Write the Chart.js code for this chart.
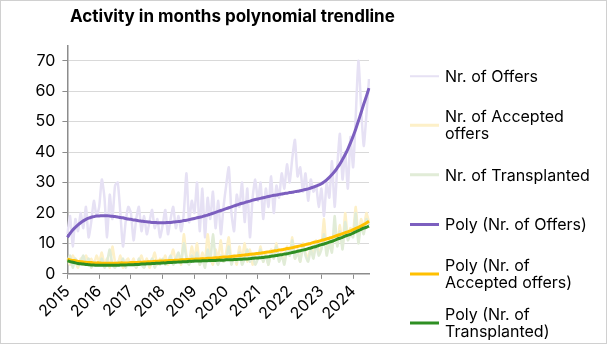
<!DOCTYPE html>
<html>
<head>
<meta charset="utf-8">
<script src="https://cdn.jsdelivr.net/npm/chart.js@4.4.0/dist/chart.umd.min.js"></script>
<style>
  body { margin: 0; background: #fff; font-family: Inter, "Liberation Sans", Arial, sans-serif; }
  #wrap { position: relative; width: 607px; height: 344px; overflow: hidden; }
  #frame { position: absolute; left: 0; top: 0; width: 605px; height: 342px; border: 1px solid #d0d0d0; pointer-events: none; }
  canvas { position: absolute; left: 0; top: 0; }
  #title { position: absolute; left: 70px; top: 5px; font-size: 17px; font-weight: bold; line-height: 22px; color: #000; white-space: nowrap; }
  .item { position: absolute; left: 410px; transform: translateY(-50%); }
  .item .swatch { position: absolute; left: 0; top: 50%; width: 29px; transform: translateY(-50%); }
  .item .txt { margin-left: 35px; font-size: 16px; line-height: 17px; color: #000; white-space: nowrap; }
</style>
</head>
<body>
<div id="wrap">
  <canvas id="chart" width="607" height="344"></canvas>
  <div id="title">Activity in months polynomial trendline</div>
  <div id="legend"></div>
  <div id="frame"></div>
</div>
<script>
// tick labels (one per January)
var years = ['2015', '2016', '2017', '2018', '2019', '2020', '2021', '2022', '2023', '2024'];
var lastYearMonths = 7; // data runs to July 2024

// monthly raw counts, Jan 2015 .. Jul 2024
var offers = [
  13, 19, 9, 18, 14, 20, 15, 22, 12, 17, 24, 19,
  22, 31, 25, 12, 26, 18, 29, 30, 20, 9, 17, 22,
  20, 11, 18, 22, 14, 19, 13, 17, 21, 15, 18, 12,
  16, 21, 13, 18, 22, 15, 19, 14, 20, 33, 17, 24,
  20, 30, 14, 28, 12, 25, 18, 27, 15, 24, 13, 22,
  29, 35, 20, 14, 26, 22, 30, 17, 28, 12, 25, 31,
  24, 30, 18, 28, 22, 32, 20, 29, 25, 33, 28, 36,
  30, 38, 44, 32, 35, 27, 33, 24, 31, 27, 29, 22,
  28, 19, 30, 25, 37, 22, 35, 46, 31, 40, 28, 45,
  35, 52, 70, 55, 42, 52, 64
];
var accepted = [
  5, 3, 6, 4, 2, 5, 3, 6, 4, 5, 3, 6,
  4, 7, 3, 5, 2, 9, 4, 3, 6, 2, 4, 5,
  3, 5, 2, 4, 6, 3, 5, 2, 4, 7, 3, 5,
  4, 6, 3, 5, 8, 4, 6, 3, 13, 6, 4, 9,
  5, 10, 3, 7, 4, 13, 6, 3, 8, 5, 11, 4,
  7, 12, 4, 6, 3, 9, 5, 10, 4, 8, 3, 6,
  5, 9, 4, 7, 3, 8, 6, 10, 5, 7, 4, 9,
  6, 12, 5, 8, 4, 10, 7, 5, 9, 6, 11, 7,
  9, 18, 7, 12, 8, 14, 10, 16, 9, 20, 12, 15,
  14, 22, 12, 18, 15, 20, 17
];
var transplanted = [
  4, 6, 2, 5, 3, 4, 6, 3, 5, 2, 4, 3,
  3, 5, 2, 4, 8, 3, 2, 4, 3, 5, 2, 4,
  3, 4, 2, 5, 3, 2, 4, 3, 5, 2, 4, 3,
  5, 3, 4, 6, 3, 5, 7, 4, 10, 5, 3, 6,
  4, 7, 3, 5, 2, 8, 4, 13, 5, 3, 6, 4,
  5, 9, 3, 6, 4, 7, 3, 5, 8, 4, 6, 3,
  5, 8, 4, 6, 3, 7, 5, 9, 4, 6, 3, 8,
  6, 11, 5, 7, 4, 9, 6, 4, 8, 5, 10, 6,
  8, 13, 6, 10, 7, 19, 9, 14, 8, 17, 11, 13,
  12, 20, 10, 16, 13, 18, 16
];

// polynomial trendlines
var polyOffers = [
  12.0, 13.3, 14.4, 15.3, 16.1, 16.8, 17.4, 17.9, 18.3, 18.6, 18.8, 19.0,
  19.0, 19.1, 19.1, 19.1, 19.0, 18.9, 18.8, 18.7, 18.5, 18.4, 18.2, 18.0,
  17.9, 17.7, 17.6, 17.4, 17.3, 17.2, 17.1, 17.0, 16.9, 16.9, 16.8, 16.8,
  16.8, 16.8, 16.9, 16.9, 17.0, 17.1, 17.2, 17.3, 17.5, 17.6, 17.8, 18.0,
  18.2, 18.4, 18.6, 18.8, 19.1, 19.3, 19.6, 19.9, 20.2, 20.5, 20.8, 21.1,
  21.4, 21.7, 22.0, 22.3, 22.6, 22.9, 23.2, 23.4, 23.7, 23.9, 24.2, 24.4,
  24.6, 24.8, 25.0, 25.2, 25.4, 25.6, 25.8, 25.9, 26.1, 26.2, 26.4, 26.5,
  26.7, 26.8, 27.0, 27.1, 27.3, 27.5, 27.7, 27.9, 28.2, 28.5, 28.8, 29.2,
  29.6, 30.2, 30.9, 31.7, 32.6, 33.6, 34.8, 36.1, 37.6, 39.2, 41.0, 43.0,
  45.2, 47.6, 50.2, 52.9, 55.7, 58.3, 61.0
];
var polyAccepted = [
  4.8, 4.6, 4.4, 4.3, 4.1, 4.0, 3.9, 3.8, 3.7, 3.7, 3.6, 3.6,
  3.6, 3.5, 3.5, 3.5, 3.5, 3.5, 3.5, 3.5, 3.6, 3.6, 3.6, 3.6,
  3.7, 3.7, 3.7, 3.8, 3.8, 3.9, 3.9, 4.0, 4.0, 4.1, 4.1, 4.2,
  4.2, 4.3, 4.3, 4.4, 4.4, 4.5, 4.5, 4.6, 4.6, 4.7, 4.7, 4.8,
  4.8, 4.9, 4.9, 5.0, 5.0, 5.1, 5.1, 5.2, 5.3, 5.3, 5.4, 5.5,
  5.5, 5.6, 5.7, 5.8, 5.9, 6.0, 6.1, 6.2, 6.3, 6.4, 6.5, 6.6,
  6.7, 6.8, 6.9, 7.1, 7.2, 7.3, 7.5, 7.6, 7.8, 7.9, 8.1, 8.3,
  8.4, 8.6, 8.8, 9.0, 9.2, 9.4, 9.6, 9.8, 10.0, 10.3, 10.5, 10.7,
  11.0, 11.2, 11.5, 11.7, 12.0, 12.3, 12.6, 12.9, 13.2, 13.5, 13.8, 14.1,
  14.5, 14.9, 15.3, 15.7, 16.2, 16.7, 17.3
];
var polyTransplanted = [
  4.3, 4.0, 3.8, 3.6, 3.4, 3.3, 3.2, 3.1, 3.0, 2.9, 2.9, 2.8,
  2.8, 2.8, 2.8, 2.8, 2.8, 2.8, 2.8, 2.8, 2.9, 2.9, 2.9, 3.0,
  3.0, 3.0, 3.1, 3.1, 3.2, 3.2, 3.3, 3.3, 3.4, 3.4, 3.5, 3.5,
  3.6, 3.6, 3.7, 3.7, 3.8, 3.8, 3.9, 3.9, 4.0, 4.0, 4.1, 4.1,
  4.2, 4.2, 4.2, 4.3, 4.3, 4.3, 4.4, 4.4, 4.4, 4.5, 4.5, 4.5,
  4.6, 4.6, 4.6, 4.7, 4.7, 4.8, 4.8, 4.9, 4.9, 5.0, 5.1, 5.2,
  5.2, 5.3, 5.4, 5.5, 5.6, 5.8, 5.9, 6.0, 6.2, 6.3, 6.5, 6.6,
  6.8, 7.0, 7.2, 7.4, 7.6, 7.8, 8.0, 8.3, 8.5, 8.8, 9.0, 9.3,
  9.6, 9.8, 10.1, 10.4, 10.7, 11.0, 11.4, 11.7, 12.0, 12.4, 12.7, 13.0,
  13.4, 13.8, 14.2, 14.6, 15.0, 15.3, 15.7
];

// month categories built from the year labels
var months = [];
years.forEach(function(y, i) {
    var n = (i === years.length - 1) ? lastYearMonths : 12;
    for (var m = 1; m <= n; m++) {
        months.push(y + '-' + (m < 10 ? '0' : '') + m);
    }
});

var axisGrey = '#8c8c8c';
var font = { family: 'Inter, "Liberation Sans", Arial, sans-serif', size: 16 };

var datasets = [
    { label: ['Nr. of Offers'], data: offers, borderColor: '#e6e1f4', borderWidth: 2.5, order: 6, tension: 0.2 },
    { label: ['Nr. of Accepted', 'offers'], data: accepted, borderColor: '#fdf0c8', borderWidth: 2.5, order: 5, tension: 0.2 },
    { label: ['Nr. of Transplanted'], data: transplanted, borderColor: '#e1ecd7', borderWidth: 2.5, order: 4, tension: 0.2 },
    { label: ['Poly (Nr. of Offers)'], data: polyOffers, borderColor: '#7c5fbf', borderWidth: 3, order: 3, tension: 0.4 },
    { label: ['Poly (Nr. of', 'Accepted offers)'], data: polyAccepted, borderColor: '#ffc000', borderWidth: 3, order: 2, tension: 0.4 },
    { label: ['Poly (Nr. of', 'Transplanted)'], data: polyTransplanted, borderColor: '#2e8f23', borderWidth: 3, order: 1, tension: 0.4 }
];

var chart = new Chart(document.getElementById('chart').getContext('2d'), {
    type: 'line',
    data: {
        labels: months,
        datasets: datasets.map(function(d) {
            return {
                label: d.label.join(' '),
                data: d.data,
                borderColor: d.borderColor,
                borderWidth: d.borderWidth,
                order: d.order,
                tension: d.tension,
                pointRadius: 0,
                fill: false
            };
        })
    },
    options: {
        responsive: false,
        animation: false,
        devicePixelRatio: 1,
        layout: { padding: { left: 28, right: 238, top: 45.5, bottom: 17.5 } },
        plugins: {
            legend: { display: false },
            tooltip: { enabled: false },
            title: { display: false }
        },
        scales: {
            x: {
                type: 'category',
                offset: false,
                grid: {
                    drawOnChartArea: false,
                    drawTicks: true,
                    tickLength: 5,
                    tickColor: function(ctx) { return ctx.index % 12 === 0 ? axisGrey : 'rgba(0,0,0,0)'; }
                },
                border: { color: axisGrey, width: 1.5 },
                ticks: {
                    autoSkip: false,
                    minRotation: 45,
                    maxRotation: 45,
                    padding: 3,
                    color: '#000',
                    font: font,
                    callback: function(v, i) { return i % 12 === 0 ? years[i / 12] : ''; }
                }
            },
            y: {
                min: 0,
                max: 75,
                grid: { color: '#d9d9d9', tickColor: axisGrey, tickLength: 5, lineWidth: 1 },
                border: { color: axisGrey, width: 1.5 },
                ticks: { stepSize: 10, includeBounds: false, padding: 7, color: '#000', font: font }
            }
        }
    }
});

// legend beside the plot, with wrapped labels
var legend = document.getElementById('legend');
datasets.forEach(function(d, i) {
    var item = document.createElement('div');
    item.className = 'item';
    item.style.top = (76 + i * 49.4) + 'px';
    var sw = document.createElement('div');
    sw.className = 'swatch';
    sw.style.height = d.borderWidth + 'px';
    sw.style.background = d.borderColor;
    var txt = document.createElement('div');
    txt.className = 'txt';
    txt.innerHTML = d.label.join('<br>');
    item.appendChild(sw);
    item.appendChild(txt);
    legend.appendChild(item);
});
</script>
</body>
</html>
